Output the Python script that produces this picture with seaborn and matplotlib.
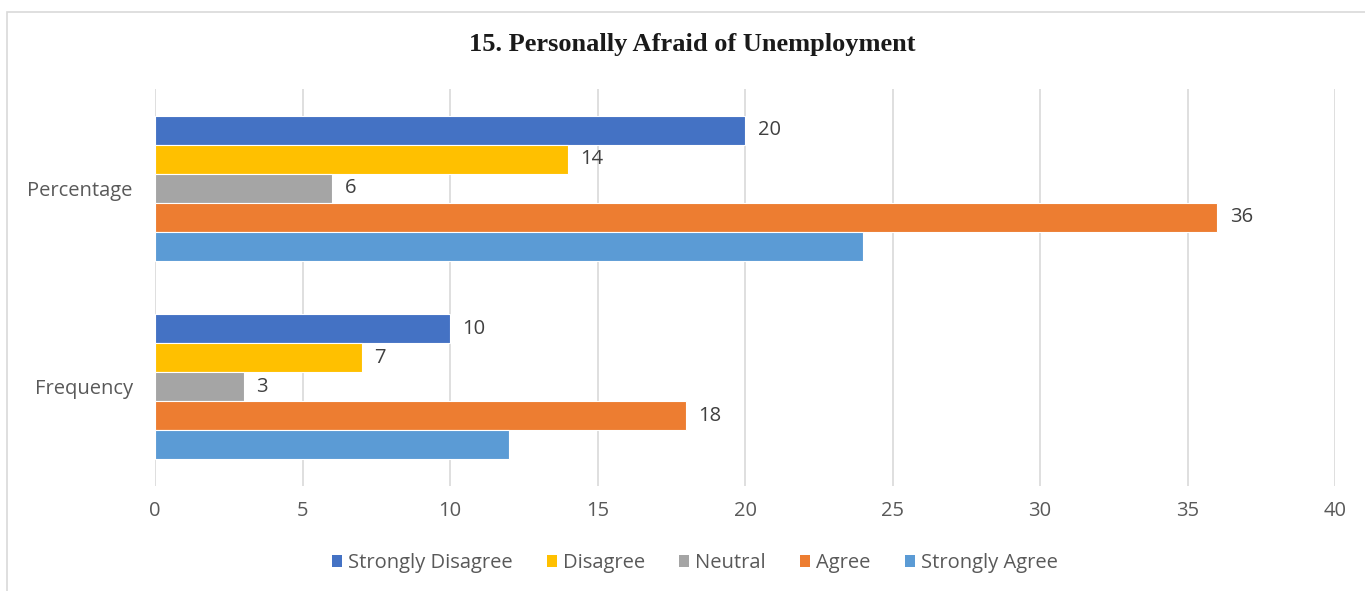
import matplotlib
matplotlib.use("Agg")
import matplotlib.pyplot as plt
from matplotlib.patches import Rectangle, Patch
import seaborn as sns
import pandas as pd

# Survey responses: "Personally afraid of unemployment"
categories = ["Percentage", "Frequency"]
responses = ["Strongly Disagree", "Disagree", "Neutral", "Agree", "Strongly Agree"]
percentage = [20, 14, 6, 36, 24]
frequency = [10, 7, 3, 18, 12]
x_ticks = [0, 5, 10, 15, 20, 25, 30, 35, 40]
# responses that carry a value label
labelled = ["Strongly Disagree", "Disagree", "Neutral", "Agree"]

colors = ["#4472C4", "#FFC000", "#A5A5A5", "#ED7D31", "#5B9BD5"]

rows = []
for cat, vals in zip(categories, [percentage, frequency]):
    for resp, v in zip(responses, vals):
        rows.append({"category": cat, "response": resp, "value": v})
df = pd.DataFrame(rows)

sns.set_theme(style="white")
plt.rcParams["font.family"] = ["Open Sans", "DejaVu Sans"]

FS = 14.5

fig = plt.figure(figsize=(13.65, 5.91), dpi=100)
ax = fig.add_axes([0.1136, 0.1777, 0.8645, 0.6717])

sns.barplot(
    data=df, y="category", x="value", hue="response",
    order=categories, hue_order=responses, palette=colors,
    orient="h", width=0.73, edgecolor="white", linewidth=0.8,
    saturation=1, legend=False, ax=ax,
)

ax.set_xlim(0, 40)
ax.set_xticks(x_ticks)
ax.set_xticklabels([str(t) for t in x_ticks])
ax.xaxis.grid(True, color="#D9D9D9", linewidth=1.2)
ax.set_axisbelow(True)
for s in ax.spines.values():
    s.set_visible(False)
ax.set_xlabel("")
ax.set_ylabel("")
ax.tick_params(axis="both", length=0, colors="#595959", labelsize=FS)
ax.tick_params(axis="y", pad=16)
ax.tick_params(axis="x", pad=11)

# value labels
for cont, resp in zip(ax.containers, responses):
    if resp in labelled:
        ax.bar_label(cont, labels=[f"{int(b.get_width())}" for b in cont],
                     padding=9, fontsize=FS, color="#404040")

fig.text(0.507, 0.925, "15. Personally Afraid of Unemployment",
         ha="center", va="center", fontsize=19, fontweight="bold",
         family="Liberation Serif", color="#1a1a1a")

handles = [Patch(facecolor=c, edgecolor="none") for c in colors]
fig.legend(handles, responses, loc="center", bbox_to_anchor=(0.509, 0.047),
           ncol=5, frameon=False, fontsize=FS, handlelength=0.5,
           handleheight=0.5, handletextpad=0.3, columnspacing=1.7,
           labelcolor="#595959")

# chart frame
fig.patches.append(Rectangle((7 / 1365, -0.1), 1.2, 1.1 - 12 / 591,
                             transform=fig.transFigure, fill=False,
                             edgecolor="#D9D9D9", linewidth=1.2))

fig.savefig("out.png", dpi=100, facecolor="white")
